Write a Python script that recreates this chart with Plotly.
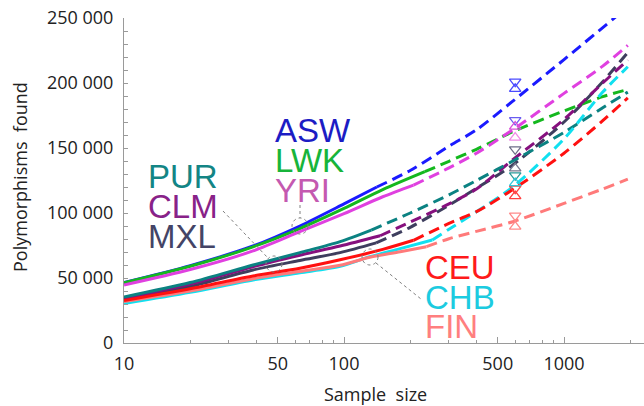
import plotly.graph_objects as go

# ---- data -------------------------------------------------------------
POPS = ["ASW", "LWK", "YRI", "PUR", "CLM", "MXL", "CEU", "CHB", "FIN"]
LINE_COLORS = ["#1a1aff", "#14b81e", "#e040e0", "#0b8282", "#86107e",
               "#3e3e5e", "#ff1010", "#10e0f0", "#ff7a7a"]
LABEL_COLORS = ["#1c1cc4", "#17b43a", "#c459b0", "#138585", "#882288",
                "#444466", "#ff1a1a", "#1ccbe0", "#ff7f7f"]

# observed (solid) and projected (dashed) polymorphism counts
ASW_n_obs = [10, 20, 38.6, 63, 100, 141]
ASW_obs = [46500, 59500, 74600, 90000, 107000, 120000]
ASW_n_proj = [141, 200, 300, 400, 585, 1000, 1750, 1950]
ASW_proj = [120000, 132700, 151400, 164000, 186000, 218000, 252000, 258500]

LWK_n_obs = [10, 20, 38.6, 63, 100, 150, 233]
LWK_obs = [46300, 59000, 74000, 88000, 103500, 118000, 131800]
LWK_n_proj = [233, 300, 400, 585, 1000, 1500, 1950]
LWK_proj = [131800, 139800, 149000, 162500, 178500, 189500, 195000]

YRI_n_obs = [10, 20, 38.6, 63, 100, 150, 207]
YRI_obs = [44600, 56500, 70800, 85600, 99500, 112500, 121500]
YRI_n_proj = [207, 300, 400, 585, 1000, 1500, 1950]
YRI_proj = [121500, 134700, 146000, 164000, 192000, 213000, 229000]

PUR_n_obs = [10, 20, 38.6, 63, 96, 133]
PUR_obs = [35400, 46500, 60000, 69500, 78000, 86900]
PUR_n_proj = [133, 200, 300, 400, 585, 1000, 1500, 1950]
PUR_proj = [86900, 100000, 114000, 125000, 140000, 162000, 181000, 193000]

CLM_n_obs = [10, 20, 38.6, 63, 96, 146]
CLM_obs = [34200, 45300, 58700, 67500, 74600, 82500]
CLM_n_proj = [146, 200, 300, 400, 585, 1000, 1500, 1950]
CLM_proj = [82500, 93000, 107000, 118500, 141000, 172000, 200000, 217700]

MXL_n_obs = [10, 20, 38.6, 63, 96, 140]
MXL_obs = [33500, 43500, 56200, 63500, 69500, 77000]
MXL_n_proj = [140, 200, 300, 400, 585, 1000, 1500, 1950]
MXL_proj = [77000, 89000, 106000, 119000, 137000, 170000, 201000, 223500]

CEU_n_obs = [10, 20, 38.6, 63, 96, 150, 207]
CEU_obs = [32700, 41700, 51500, 57500, 64000, 72000, 79000]
CEU_n_proj = [207, 300, 400, 585, 1000, 1500, 1950]
CEU_proj = [79000, 92000, 101000, 118000, 146000, 171000, 188500]

CHB_n_obs = [10, 20, 38.6, 63, 96, 131, 180, 252]
CHB_obs = [30400, 39000, 48500, 54000, 59000, 66400, 72600, 79200]
CHB_n_proj = [252, 300, 400, 585, 1000, 1500, 1950]
CHB_proj = [79200, 87500, 101000, 120000, 157000, 193000, 212500]

FIN_n_obs = [10, 20, 38.6, 63, 96, 131, 180, 237]
FIN_obs = [31900, 40000, 49500, 55000, 59800, 66000, 70200, 74100]
FIN_n_proj = [237, 300, 400, 585, 1000, 1500, 1950]
FIN_proj = [74100, 80200, 85900, 93300, 107400, 118500, 126000]

# estimates at sample size 600 (upper / lower)
MARK_N = 600
DOWN_VALUES = [201000, 171500, 149000, 129000, 118700, 98000]
DOWN_COLORS = ["#4b4bff", "#6a5cf0", "#6e6e88", "#2a9a9a", "#ff4040", "#ff8a8a"]
UP_VALUES = [195500, 166500, 158000, 134400, 123000, 113000, 89500]
UP_COLORS = ["#4b4bff", "#d94fd9", "#f08ce6", "#7a7a90", "#30c8d8", "#ff4040", "#ff8a8a"]

X_TICKS = [10, 50, 100, 500, 1000]
X_MINOR = [20, 30, 40, 60, 70, 80, 90, 200, 300, 400, 600, 700, 800, 900, 2000]
Y_TICKS = [0, 50000, 100000, 150000, 200000, 250000]
Y_TICK_TEXT = ["0", "50 000", "100 000", "150 000", "200 000", "250 000"]

SERIES = {
    "ASW": (ASW_n_obs, ASW_obs, ASW_n_proj, ASW_proj),
    "LWK": (LWK_n_obs, LWK_obs, LWK_n_proj, LWK_proj),
    "YRI": (YRI_n_obs, YRI_obs, YRI_n_proj, YRI_proj),
    "PUR": (PUR_n_obs, PUR_obs, PUR_n_proj, PUR_proj),
    "CLM": (CLM_n_obs, CLM_obs, CLM_n_proj, CLM_proj),
    "MXL": (MXL_n_obs, MXL_obs, MXL_n_proj, MXL_proj),
    "CEU": (CEU_n_obs, CEU_obs, CEU_n_proj, CEU_proj),
    "CHB": (CHB_n_obs, CHB_obs, CHB_n_proj, CHB_proj),
    "FIN": (FIN_n_obs, FIN_obs, FIN_n_proj, FIN_proj),
}

# ---- layout geometry ----------------------------------------------------
W, H = 644, 406
ML, MR, MT, MB = 124, 0, 18, 63
PW, PH = W - ML - MR, H - MT - MB


def paper(px, py):
    """pixel position -> paper coordinates"""
    return (px - ML) / PW, (H - MB - py) / PH


fig = go.Figure()

DRAW_ORDER = ["ASW", "LWK", "YRI", "MXL", "CLM", "PUR", "CHB", "FIN", "CEU"]
for pop in DRAW_ORDER:
    i = POPS.index(pop)
    n_obs, obs, n_proj, proj = SERIES[pop]
    col = LINE_COLORS[i]
    fig.add_trace(go.Scatter(x=n_proj, y=proj, mode="lines",
                             line=dict(color=col, width=3, dash="11px,6px",
                                       shape="spline", smoothing=0.8),
                             hoverinfo="skip"))
    fig.add_trace(go.Scatter(x=n_obs, y=obs, mode="lines",
                             line=dict(color=col, width=3,
                                       shape="spline", smoothing=0.8),
                             hoverinfo="skip"))

fig.add_trace(go.Scatter(x=[MARK_N] * len(DOWN_VALUES), y=DOWN_VALUES, mode="markers",
                         marker=dict(symbol="triangle-down-open", size=10,
                                     color=DOWN_COLORS, line=dict(width=1.3)),
                         hoverinfo="skip"))
fig.add_trace(go.Scatter(x=[MARK_N] * len(UP_VALUES), y=UP_VALUES, mode="markers",
                         marker=dict(symbol="triangle-up-open", size=10,
                                     color=UP_COLORS, line=dict(width=1.3)),
                         hoverinfo="skip"))

# population labels (left edge, vertical centre of the capitals) in pixels
LABEL_POS = {
    "ASW": (273, 130), "LWK": (273, 160.5), "YRI": (273, 190.5),
    "PUR": (146, 176), "CLM": (146, 206.5), "MXL": (146, 236.5),
    "CEU": (423, 267.5), "CHB": (423, 297.5), "FIN": (423, 326.5),
}
annotations = []
for i, pop in enumerate(POPS):
    px, py = LABEL_POS[pop]
    ax_, ay_ = paper(px, py)
    annotations.append(dict(x=ax_, y=ay_, xref="paper", yref="paper", text=pop,
                            showarrow=False, xanchor="left", yanchor="middle",
                            font=dict(family="Liberation Sans", size=33,
                                      color=LABEL_COLORS[i])))

# axis titles
tx, ty = paper(20, 177)
annotations.append(dict(x=tx, y=ty, xref="paper", yref="paper",
                        text="Polymorphisms\u00a0\u00a0found", textangle=-90,
                        showarrow=False, xanchor="center", yanchor="middle",
                        font=dict(family="Open Sans", size=18, color="#222")))
tx, ty = paper(375, 394)
annotations.append(dict(x=tx, y=ty, xref="paper", yref="paper",
                        text="Sample\u00a0\u00a0size",
                        showarrow=False, xanchor="center", yanchor="middle",
                        font=dict(family="Open Sans", size=18, color="#222")))

# dotted pointers from labels to curves
shapes = []
DOT = dict(color="#808080", width=1, dash="dot")
R = 8
for cx, cy in [(274, 264), (300, 226), (370, 257)]:
    x0, y0 = paper(cx - R, cy + R)
    x1, y1 = paper(cx + R, cy - R)
    shapes.append(dict(type="circle", xref="paper", yref="paper",
                       x0=x0, y0=y0, x1=x1, y1=y1, line=DOT))
for (p0, p1) in [((223, 211), (268, 258)), ((300, 205), (300, 218)),
                 ((376, 263), (421, 299))]:
    x0, y0 = paper(*p0)
    x1, y1 = paper(*p1)
    shapes.append(dict(type="line", xref="paper", yref="paper",
                       x0=x0, y0=y0, x1=x1, y1=y1, line=DOT))

AXIS_GRAY = "#9a9a9a"
TICK_FONT = dict(family="Open Sans", size=18, color="#222")

fig.update_layout(
    width=W, height=H,
    margin=dict(l=ML, r=MR, t=MT, b=MB),
    paper_bgcolor="white", plot_bgcolor="white",
    showlegend=False,
    annotations=annotations, shapes=shapes,
    xaxis=dict(type="log", range=[1, 1 + PW / 220],
               tickmode="array", tickvals=X_TICKS,
               ticktext=[str(v) for v in X_TICKS],
               ticks="inside", ticklen=6, tickwidth=1, tickcolor=AXIS_GRAY,
               minor=dict(tickmode="array", tickvals=X_MINOR, ticks="inside",
                          ticklen=3, tickcolor=AXIS_GRAY),
               showline=True, linecolor=AXIS_GRAY, linewidth=1,
               showgrid=False, zeroline=False,
               tickfont=TICK_FONT, ticklabelstandoff=4),
    yaxis=dict(range=[0, 250000], tickmode="array", tickvals=Y_TICKS,
               ticktext=Y_TICK_TEXT,
               ticks="inside", ticklen=4, tickwidth=1, tickcolor=AXIS_GRAY,
               minor=dict(dtick=10000, ticks="inside", ticklen=4,
                          tickcolor=AXIS_GRAY),
               showline=True, linecolor=AXIS_GRAY, linewidth=1,
               showgrid=False, zeroline=False,
               tickfont=TICK_FONT, ticklabelstandoff=6),
)

fig.write_html("out.html")
